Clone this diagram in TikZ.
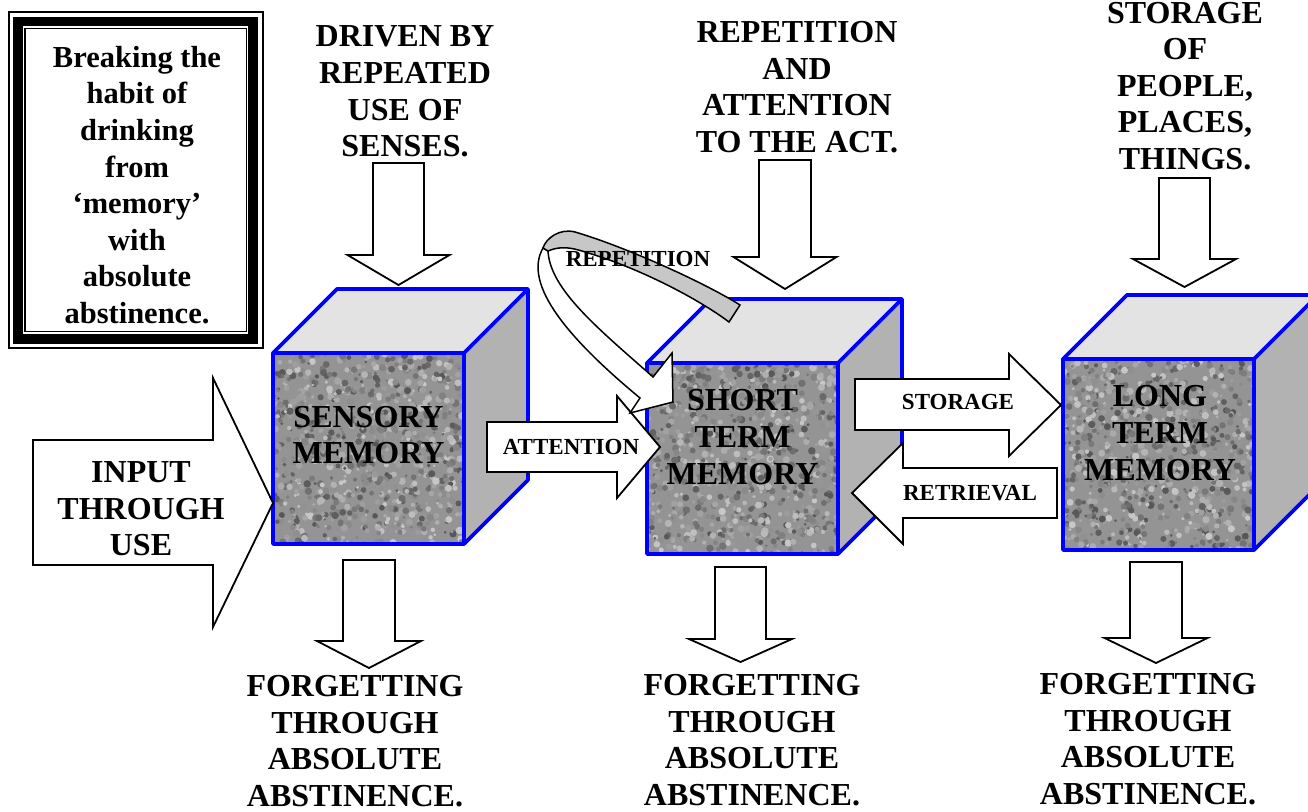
\documentclass[tikz,border=0pt]{standalone}
\usepackage{fontspec}
\setmainfont{Liberation Serif}
\usetikzlibrary{positioning}

% memory cube, #1,#2 = upper left corner of the front face
\newcommand{\memcube}[2]{%
  \fill[cubetop] (#1,#2) -- ++(64,-64) -- ++(191,0) -- ++(-64,64) -- cycle;
  \fill[cubeside] ({#1+191},#2) -- ++(64,-64) -- ++(0,191) -- ++(-64,64) -- cycle;
  \begin{scope}
    \clip (#1,#2) rectangle ++(191,191);
    \fill[black!42] (#1,#2) rectangle ++(191,191);
    \foreach \k in {1,...,900}{
      \pgfmathsetmacro{\g}{int(22+45*rnd)}
      \fill[black!\g] ({#1+191*rnd},{#2+191*rnd}) circle [radius=1.4pt+2.4pt*rnd];
    }
  \end{scope}
  \draw[cubeedge] (#1,#2) -- ++(64,-64) -- ++(191,0) -- ++(0,191) -- ++(-64,64)
    -- ++(-191,0) -- cycle;
  \draw[cubeedge] (#1,#2) -- ++(191,0) -- ++(64,-64);
  \draw[cubeedge] ({#1+191},#2) -- ++(0,191);
}

% block arrow pointing down: centre x, top, head y, tip y, half shaft, half head
\newcommand{\downblock}[6]{%
  \draw[blockarrow] ({#1-#5},#2) -- ({#1+#5},#2) -- ({#1+#5},#3) -- ({#1+#6},#3)
    -- (#1,#4) -- ({#1-#6},#3) -- ({#1-#5},#3) -- cycle;
}

\begin{document}
\begin{tikzpicture}[x=1pt, y=-1pt,
    blockarrow/.style={draw=black, fill=white, line width=1.8pt, line join=miter},
    cubetop/.style={fill=black!11},
    cubeside/.style={fill=black!30},
    cubeedge/.style={draw=blue, line width=3.8pt, line join=round},
    bigtext/.style={font=\bfseries\fontsize{32}{36.6}\selectfont, align=center, inner sep=0pt},
    boxtext/.style={font=\bfseries\fontsize{30.5}{36.6}\selectfont, align=center, inner sep=0pt},
    smalltext/.style={font=\bfseries\fontsize{23}{27}\selectfont, inner sep=0pt}]
    \useasboundingbox (0,0) rectangle (1308,811);
    \pgfmathsetseed{11}

    % framed note
    \draw[line width=1.3pt] (9,12) rectangle (263,348);
    \draw[line width=9.5pt] (18,21.5) rectangle (253,339);
    \draw[line width=1.3pt] (25,28.5) rectangle (246.5,331.5);
    \node[boxtext] (habit) at (137,185) {Breaking the\\habit of\\drinking\\from\\‘memory’\\with\\absolute\\abstinence.};

    % the three stores
    \memcube{273}{353}
    \memcube{647}{363}
    \memcube{1063}{359}

    % block arrows
    \draw[blockarrow] (33,440) -- (213,440) -- (213,378) -- (273,503) -- (213,627)
      -- (213,565) -- (33,565) -- cycle;
    \draw[blockarrow] (487,422) -- (617,422) -- (617,396) -- (660,447) -- (617,498)
      -- (617,472) -- (487,472) -- cycle;
    \draw[blockarrow] (855,379) -- (1009,379) -- (1009,354) -- (1061,405) -- (1009,456)
      -- (1009,430) -- (855,430) -- cycle;
    \draw[blockarrow] (1057,468) -- (903,468) -- (903,443) -- (852,493) -- (903,544)
      -- (903,518) -- (1057,518) -- cycle;
    \downblock{398.5}{163}{255}{285}{25.5}{51}
    \downblock{785}{160}{257}{289}{26}{51.5}
    \downblock{1184.5}{178}{259}{287}{25.5}{51.5}
    \downblock{369}{560}{641}{668}{26}{52}
    \downblock{740.5}{567}{639}{662}{25.5}{51.5}
    \downblock{1156}{562}{638}{663}{26}{51.5}

    % curved repetition arrow
    \draw[blockarrow, line width=1.5pt] (548,251) .. controls (550,290) and (600,330) .. (653,377)
      -- (672,353) -- (673,402) -- (630,413) -- (640,398)
      .. controls (570,340) and (522,285) .. (543,248) -- cycle;
    \draw[line width=1.5pt, fill=black!22] (740,305) .. controls (700,280) and (620,245) .. (575,232)
      .. controls (560,228) and (546,238) .. (543,248) -- (548,251)
      .. controls (560,246) and (570,247) .. (585,252)
      .. controls (640,268) and (700,300) .. (729,322) -- cycle;

    % labels
    \node[smalltext] (rep) at (638,259) {REPETITION};
    \node[smalltext] (att) at (571,447) {ATTENTION};
    \node[smalltext] (sto) at (958,402) {STORAGE};
    \node[smalltext] (ret) at (970,493) {RETRIEVAL};

    \node[bigtext] (sensory) at (368.5,435) {SENSORY\\MEMORY};
    \node[bigtext] (short) at (742.5,437) {SHORT\\TERM\\MEMORY};
    \node[bigtext] (long) at (1160,433) {LONG\\TERM\\MEMORY};

    \node[bigtext] (input) at (141,509) {INPUT\\THROUGH\\USE};
    \node[bigtext] (senses) at (405,91.5) {DRIVEN BY\\REPEATED\\USE OF\\SENSES.};
    \node[bigtext] (act) at (797,87) {REPETITION\\AND\\ATTENTION\\TO THE ACT.};
    \node[bigtext] (things) at (1185,86) {STORAGE\\OF\\PEOPLE,\\PLACES,\\THINGS.};

    \node[bigtext] (forget1) at (355,741) {FORGETTING\\THROUGH\\ABSOLUTE\\ABSTINENCE.};
    \node[bigtext] (forget2) at (752,740) {FORGETTING\\THROUGH\\ABSOLUTE\\ABSTINENCE.};
    \node[bigtext] (forget3) at (1148,739) {FORGETTING\\THROUGH\\ABSOLUTE\\ABSTINENCE.};
\end{tikzpicture}
\end{document}
